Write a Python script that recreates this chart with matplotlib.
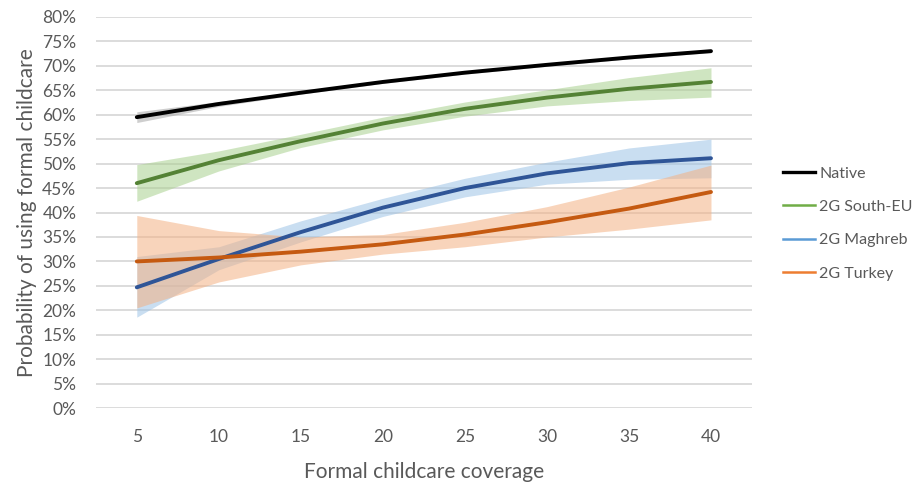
import numpy as np
import matplotlib.pyplot as plt
from matplotlib.lines import Line2D
from matplotlib.ticker import PercentFormatter

plt.rcParams['font.family'] = ['Lato', 'DejaVu Sans']

coverage = [5, 10, 15, 20, 25, 30, 35, 40]

native = [59.5, 62.2, 64.5, 66.7, 68.6, 70.2, 71.7, 73.0]
native_lo = [58.4, 61.7, 64.2, 66.4, 68.3, 69.9, 71.4, 72.7]
native_hi = [60.6, 62.7, 64.8, 67.0, 68.9, 70.5, 72.0, 73.3]

south_eu = [46.0, 50.7, 54.6, 58.2, 61.2, 63.5, 65.3, 66.7]
south_eu_lo = [42.3, 48.5, 53.3, 56.9, 59.7, 61.8, 62.9, 63.6]
south_eu_hi = [49.8, 52.6, 56.0, 59.5, 62.6, 65.1, 67.6, 69.6]

maghreb = [24.7, 30.5, 36.0, 41.0, 45.0, 48.0, 50.1, 51.1]
maghreb_lo = [18.6, 28.3, 34.0, 39.2, 43.2, 45.8, 46.8, 47.1]
maghreb_hi = [31.0, 33.0, 38.3, 42.9, 47.0, 50.3, 53.2, 55.0]

turkey = [30.0, 30.8, 32.0, 33.5, 35.5, 38.0, 40.8, 44.2]
turkey_lo = [20.5, 25.8, 29.3, 31.5, 33.0, 35.0, 36.6, 38.5]
turkey_hi = [39.4, 36.3, 35.0, 35.5, 38.0, 41.2, 45.2, 49.7]

labels = ['Native', '2G South-EU', '2G Maghreb', '2G Turkey']
line_colors = ['#000000', '#548235', '#2F5597', '#C55A11']
band_colors = ['#A6A6A6', '#A9D18E', '#9DC3E6', '#F4B183']
legend_colors = ['#000000', '#70AD47', '#5B9BD5', '#ED7D31']

series = [
    (native, native_lo, native_hi),
    (south_eu, south_eu_lo, south_eu_hi),
    (maghreb, maghreb_lo, maghreb_hi),
    (turkey, turkey_lo, turkey_hi),
]

fig = plt.figure(figsize=(9.21, 4.83), dpi=100)
ax = fig.add_axes([0.104, 0.155, 0.7125, 0.81])

x = np.arange(len(coverage))
for (mid, lo, hi), bc in zip(series, band_colors):
    ax.fill_between(x, np.array(lo) / 100, np.array(hi) / 100, color=bc, alpha=0.55, linewidth=0)
for (mid, lo, hi), lc in zip(series, line_colors):
    ax.plot(x, np.array(mid) / 100, color=lc, linewidth=2.8, solid_capstyle='round')

ax.set_xlim(-0.5, len(coverage) - 0.5)
ax.set_ylim(0, 0.8)
ax.set_yticks(np.arange(0, 0.81, 0.05))
ax.yaxis.set_major_formatter(PercentFormatter(1.0, decimals=0))
ax.set_xticks(x)
ax.set_xticklabels([str(c) for c in coverage])
ax.grid(axis='y', color='#D9D9D9', linewidth=1.3)
ax.set_axisbelow(True)
for s in ax.spines.values():
    s.set_visible(False)
ax.tick_params(length=0, labelsize=12.5, colors='#595959')
ax.tick_params(axis='y', pad=14)
ax.tick_params(axis='x', pad=15)
ax.set_xlabel('Formal childcare coverage', fontsize=15, color='#595959', labelpad=12)
ax.set_ylabel('Probability of using formal childcare', fontsize=15, color='#595959', labelpad=4)

handles = [Line2D([0], [0], color=c, linewidth=2.4 if c == '#000000' else 1.8) for c in legend_colors]
leg = fig.legend(handles, labels, loc='center left', bbox_to_anchor=(0.835, 0.537),
                 frameon=False, fontsize=11.5, labelspacing=1.2, handlelength=2.0,
                 handletextpad=0.25, labelcolor='#595959')

fig.savefig('out.png')
